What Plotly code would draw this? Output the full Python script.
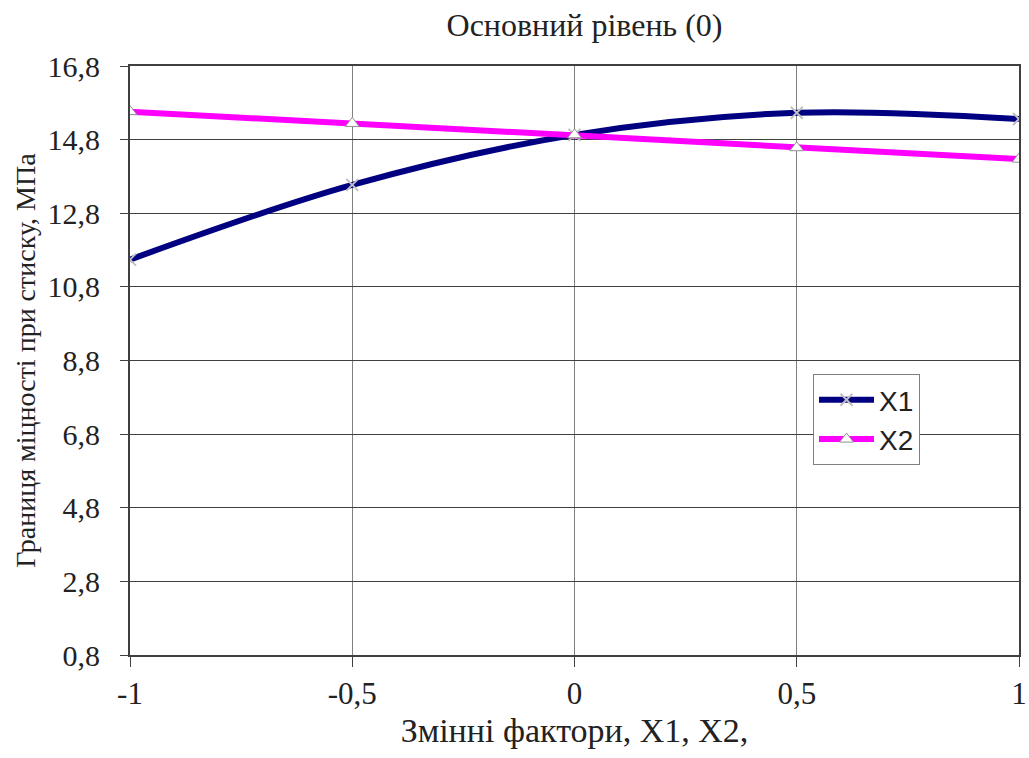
import plotly.graph_objects as go

x_vals = [-1, -0.5, 0, 0.5, 1]
x1_vals = [11.54, 13.57, 14.93, 15.53, 15.36]
x2_vals = [15.56, 15.24, 14.93, 14.58, 14.27]
y_ticks = [0.8, 2.8, 4.8, 6.8, 8.8, 10.8, 12.8, 14.8, 16.8]
y_tick_text = ["0,8", "2,8", "4,8", "6,8", "8,8", "10,8", "12,8", "14,8", "16,8"]
x_ticks = [-1, -0.5, 0, 0.5, 1]
x_tick_text = ["-1", "-0,5", "0", "0,5", "1"]

serif = "Liberation Serif"
sans = "Liberation Sans"

fig = go.Figure()
fig.add_trace(go.Scatter(
    x=x_vals, y=x1_vals, name="X1", mode="lines+markers",
    line=dict(color="#000080", width=6, shape="spline", smoothing=1.0),
    marker=dict(symbol="x-thin", size=12, color="white",
                line=dict(color="#c0c0c0", width=2)),
))
fig.add_trace(go.Scatter(
    x=x_vals, y=x2_vals, name="X2", mode="lines+markers",
    line=dict(color="#FF00FF", width=6),
    marker=dict(symbol="triangle-up", size=12, color="white",
                line=dict(color="#909090", width=1)),
))

fig.update_layout(
    template="none",
    width=1029, height=758,
    margin=dict(l=130, r=10, t=66, b=103),
    paper_bgcolor="white", plot_bgcolor="white",
    title=dict(text="Основний рівень (0)", x=(442 + 727) / 2 / 1029, xanchor="center",
               y=1 - 25 / 758, yanchor="middle",
               font=dict(family=serif, size=32, color="#222")),
    xaxis=dict(range=[-1, 1], tickvals=x_ticks, ticktext=x_tick_text,
               showgrid=True, gridcolor="#808080", gridwidth=1,
               zeroline=False, showline=True, linecolor="#404040", linewidth=2,
               mirror=True, ticks="outside", ticklen=10, tickcolor="#404040",
               ticklabelstandoff=0, automargin=False,
               tickfont=dict(family=serif, size=31, color="#222"),
               title=dict(text="Змінні фактори, X1, X2,",
                          font=dict(family=serif, size=34, color="#222"),
                          standoff=8)),
    yaxis=dict(range=[0.8, 16.8], tickvals=y_ticks, ticktext=y_tick_text,
               showgrid=True, gridcolor="#404040", gridwidth=1,
               zeroline=False, showline=True, linecolor="#404040", linewidth=2,
               mirror=True, ticks="outside", ticklen=8, tickcolor="#404040",
               ticklabelstandoff=14, automargin=False,
               tickfont=dict(family=serif, size=30, color="#222"),
               title=dict(text="Границя міцності при стиску, МПа",
                          font=dict(family=serif, size=28, color="#222"),
                          standoff=4)),
    legend=dict(x=(813 - 130) / 889, y=(655 - 374) / 589, xanchor="left", yanchor="top",
                bgcolor="white", bordercolor="#808080", borderwidth=1,
                font=dict(family=sans, size=28, color="#222"),
                itemwidth=55, tracegroupgap=29),
    showlegend=True,
)

fig.write_html("out.html")
